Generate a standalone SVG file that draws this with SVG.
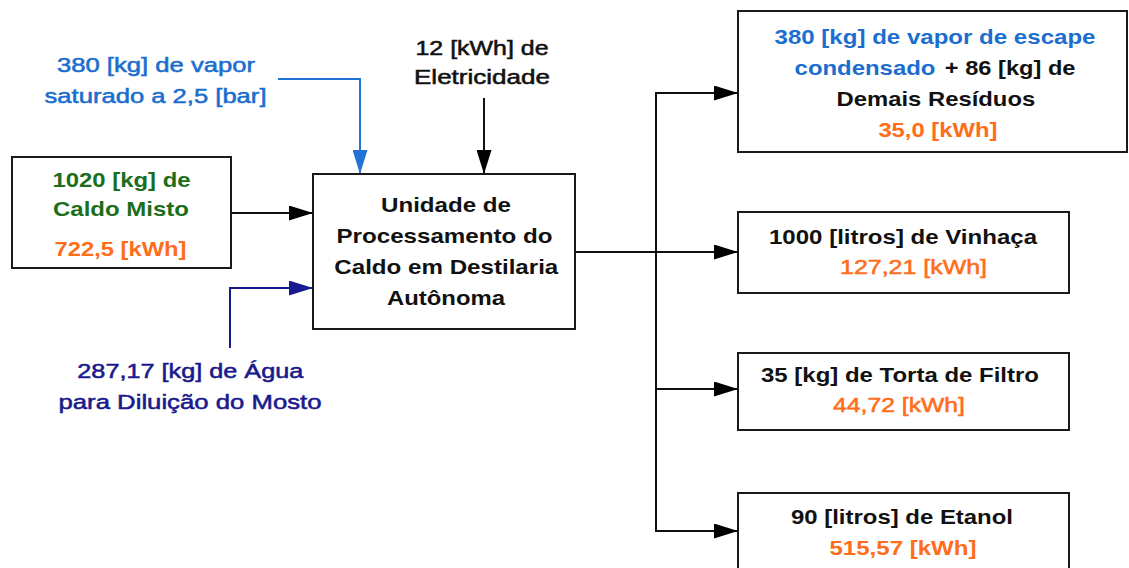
<svg xmlns="http://www.w3.org/2000/svg" width="1129" height="568" viewBox="0 0 1129 568">
<style>
text{font-family:"Liberation Sans",Arial,sans-serif;font-size:21px;text-anchor:middle}
.b{font-weight:bold}
.n{font-weight:normal;stroke-width:0.55px}
.blk{fill:#111111}
.n.blk{stroke:#111111}
.lb{fill:#1b6ecf}
.n.lb{stroke:#1b6ecf}
.nv{fill:#1a1a8c}
.n.nv{stroke:#1a1a8c}
.gr{fill:#1b6e1b}
.or{fill:#ff6d1a}
.n.or{stroke:#ff6d1a}
.box{fill:#ffffff;stroke:#1a1a1a;stroke-width:2}
.ln{fill:none;stroke-width:2}
</style>
<defs>
<marker id="ah" markerUnits="userSpaceOnUse" markerWidth="24" markerHeight="15" refX="24" refY="7.5" orient="auto"><path d="M0,0 L24,7.5 L0,15 z" fill="#000"/></marker>
<marker id="ahb" markerUnits="userSpaceOnUse" markerWidth="24" markerHeight="15" refX="24" refY="7.5" orient="auto"><path d="M0,0 L24,7.5 L0,15 z" fill="#2373d6"/></marker>
<marker id="ahn" markerUnits="userSpaceOnUse" markerWidth="24" markerHeight="15" refX="24" refY="7.5" orient="auto"><path d="M0,0 L24,7.5 L0,15 z" fill="#1a1a8f"/></marker>
</defs>

<g id="connectors">
<line class="ln" x1="231" y1="213" x2="313" y2="213" stroke="#111" marker-end="url(#ah)"/>
<path class="ln" d="M230,348 L230,288 L313,288" stroke="#1a1a8f" marker-end="url(#ahn)"/>
<path class="ln" d="M278,79 L360,79 L360,174" stroke="#2373d6" marker-end="url(#ahb)"/>
<line class="ln" x1="484" y1="98" x2="484" y2="174" stroke="#111" marker-end="url(#ah)"/>
<line class="ln" x1="575" y1="252" x2="738" y2="252" stroke="#111" marker-end="url(#ah)"/>
<line class="ln" x1="656" y1="92" x2="656" y2="532" stroke="#111"/>
<line class="ln" x1="655" y1="93" x2="738" y2="93" stroke="#111" marker-end="url(#ah)"/>
<line class="ln" x1="655" y1="389" x2="738" y2="389" stroke="#111" marker-end="url(#ah)"/>
<line class="ln" x1="655" y1="531" x2="738" y2="531" stroke="#111" marker-end="url(#ah)"/>
</g>

<g id="label-vapor">
<text class="n lb" x="156" y="72" textLength="198" lengthAdjust="spacingAndGlyphs">380 [kg] de vapor</text>
<text class="n lb" x="155.5" y="103" textLength="222" lengthAdjust="spacingAndGlyphs">saturado a 2,5 [bar]</text>
</g>

<g id="label-eletricidade">
<text class="n blk" x="482" y="55" textLength="133" lengthAdjust="spacingAndGlyphs">12 [kWh] de</text>
<text class="n blk" x="482" y="84" textLength="136" lengthAdjust="spacingAndGlyphs">Eletricidade</text>
</g>

<g id="label-agua">
<text class="n nv" x="190.3" y="378" textLength="226" lengthAdjust="spacingAndGlyphs">287,17 [kg] de Água</text>
<text class="n nv" x="190" y="409" textLength="263" lengthAdjust="spacingAndGlyphs">para Diluição do Mosto</text>
</g>

<g id="node-caldo">
<rect class="box" x="12" y="157" width="219" height="111"/>
<text class="b gr" x="121.5" y="187" textLength="138" lengthAdjust="spacingAndGlyphs">1020 [kg] de</text>
<text class="b gr" x="121" y="216" textLength="136" lengthAdjust="spacingAndGlyphs">Caldo Misto</text>
<text class="b or" x="120.5" y="256" textLength="132" lengthAdjust="spacingAndGlyphs">722,5 [kWh]</text>
</g>

<g id="node-unidade">
<rect class="box" x="313" y="174" width="262" height="155"/>
<text class="b blk" x="446" y="212" textLength="130" lengthAdjust="spacingAndGlyphs">Unidade de</text>
<text class="b blk" x="444.5" y="242.5" textLength="216" lengthAdjust="spacingAndGlyphs">Processamento do</text>
<text class="b blk" x="446.3" y="273.5" textLength="224" lengthAdjust="spacingAndGlyphs">Caldo em Destilaria</text>
<text class="b blk" x="446" y="305" textLength="118" lengthAdjust="spacingAndGlyphs">Autônoma</text>
</g>

<g id="node-residuos">
<rect class="box" x="738" y="11" width="389" height="141"/>
<text class="b lb" x="935" y="44" textLength="321" lengthAdjust="spacingAndGlyphs">380 [kg] de vapor de escape</text>
<text class="b lb" x="794.6" y="74.5" style="text-anchor:start" textLength="140.8" lengthAdjust="spacingAndGlyphs">condensado</text>
<text class="b blk" x="944.8" y="74.5" style="text-anchor:start" textLength="130.7" lengthAdjust="spacingAndGlyphs">+ 86 [kg] de</text>
<text class="b blk" x="935.9" y="105.5" textLength="198.6" lengthAdjust="spacingAndGlyphs">Demais Resíduos</text>
<text class="b or" x="937.9" y="136.5" textLength="119" lengthAdjust="spacingAndGlyphs">35,0 [kWh]</text>
</g>

<g id="node-vinhaca">
<rect class="box" x="738" y="212" width="331" height="81"/>
<text class="b blk" x="903" y="243.5" textLength="268" lengthAdjust="spacingAndGlyphs">1000 [litros] de Vinhaça</text>
<text class="n or" x="913.5" y="274" textLength="147" lengthAdjust="spacingAndGlyphs">127,21 [kWh]</text>
</g>

<g id="node-torta">
<rect class="box" x="738" y="353" width="331" height="77"/>
<text class="b blk" x="900" y="381.5" textLength="278" lengthAdjust="spacingAndGlyphs">35 [kg] de Torta de Filtro</text>
<text class="n or" x="899" y="412" textLength="132" lengthAdjust="spacingAndGlyphs">44,72 [kWh]</text>
</g>

<g id="node-etanol">
<rect class="box" x="738" y="493" width="331" height="90"/>
<text class="b blk" x="902" y="524" textLength="222" lengthAdjust="spacingAndGlyphs">90 [litros] de Etanol</text>
<text class="b or" x="903" y="555" textLength="147" lengthAdjust="spacingAndGlyphs">515,57 [kWh]</text>
</g>
</svg>
